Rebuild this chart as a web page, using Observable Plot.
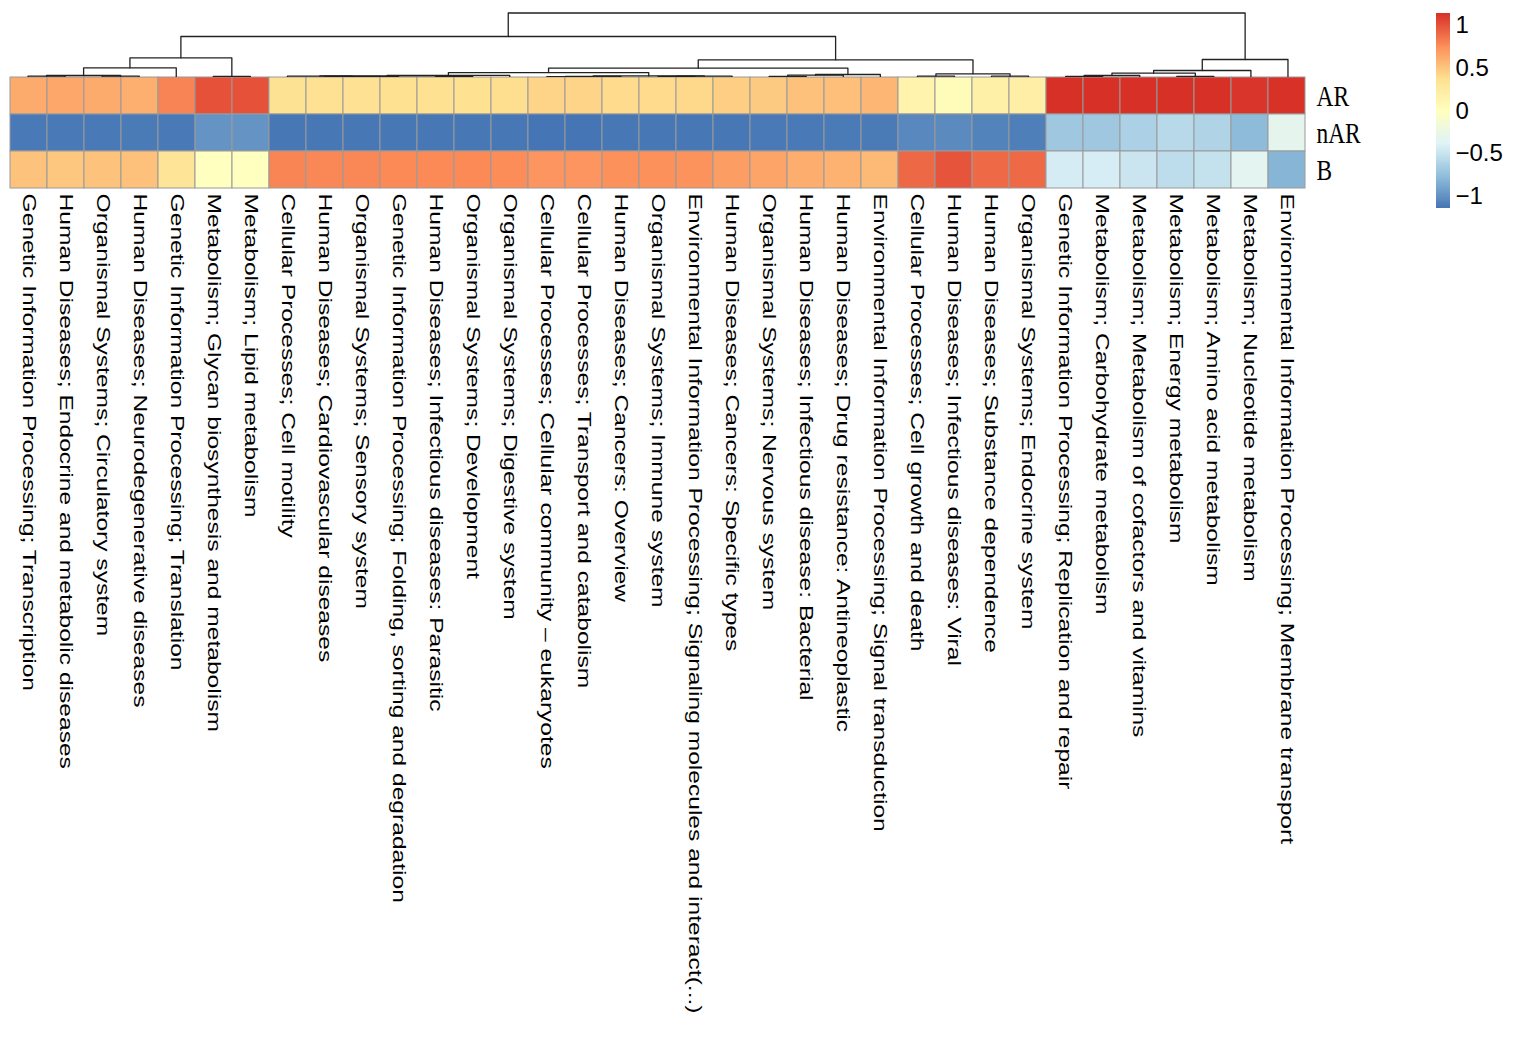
<!DOCTYPE html>
<html><head><meta charset="utf-8">
<script src="https://cdn.jsdelivr.net/npm/d3@7"></script>
<script src="https://cdn.jsdelivr.net/npm/@observablehq/plot@0.6"></script>
<style>
body{margin:0;background:#fff;}
#wrap{position:relative;width:1524px;height:1039px;background:#fff;overflow:hidden;}
#wrap svg{position:absolute;background:transparent;}
</style></head><body><div id="wrap"></div>
<script>
// ---- data ----
const pathways = [
  "Genetic Information Processing; Transcription",
  "Human Diseases; Endocrine and metabolic diseases",
  "Organismal Systems; Circulatory system",
  "Human Diseases; Neurodegenerative diseases",
  "Genetic Information Processing; Translation",
  "Metabolism; Glycan biosynthesis and metabolism",
  "Metabolism; Lipid metabolism",
  "Cellular Processes; Cell motility",
  "Human Diseases; Cardiovascular diseases",
  "Organismal Systems; Sensory system",
  "Genetic Information Processing; Folding, sorting and degradation",
  "Human Diseases; Infectious diseases: Parasitic",
  "Organismal Systems; Development",
  "Organismal Systems; Digestive system",
  "Cellular Processes; Cellular community \u2013 eukaryotes",
  "Cellular Processes; Transport and catabolism",
  "Human Diseases; Cancers: Overview",
  "Organismal Systems; Immune system",
  "Environmental Information Processing; Signaling molecules and interact(...)",
  "Human Diseases; Cancers: Specific types",
  "Organismal Systems; Nervous system",
  "Human Diseases; Infectious disease: Bacterial",
  "Human Diseases; Drug resistance: Antineoplastic",
  "Environmental Information Processing; Signal transduction",
  "Cellular Processes; Cell growth and death",
  "Human Diseases; Infectious diseases: Viral",
  "Human Diseases; Substance dependence",
  "Organismal Systems; Endocrine system",
  "Genetic Information Processing; Replication and repair",
  "Metabolism; Carbohydrate metabolism",
  "Metabolism; Metabolism of cofactors and vitamins",
  "Metabolism; Energy metabolism",
  "Metabolism; Amino acid metabolism",
  "Metabolism; Nucleotide metabolism",
  "Environmental Information Processing; Membrane transport"
];
const groups = ["AR", "nAR", "B"];
const valuesAR = [0.62, 0.64, 0.62, 0.60, 0.80, 1.00, 1.00, 0.35, 0.36, 0.36, 0.37, 0.37, 0.37, 0.38,
  0.43, 0.43, 0.40, 0.40, 0.41, 0.46, 0.48, 0.52, 0.53, 0.57,
  0.14, 0.05, 0.18, 0.20, 1.14, 1.14, 1.14, 1.14, 1.14, 1.12, 1.13];
const valuesNAR = [-1.13, -1.13, -1.13, -1.12, -1.13, -0.99, -0.99, -1.14, -1.14, -1.14, -1.14, -1.14, -1.14, -1.14,
  -1.15, -1.15, -1.14, -1.14, -1.14, -1.14, -1.13, -1.13, -1.12, -1.12,
  -1.05, -1.04, -1.08, -1.10, -0.70, -0.70, -0.64, -0.58, -0.62, -0.79, -0.32];
const valuesB = [0.51, 0.49, 0.51, 0.52, 0.33, -0.01, -0.01, 0.79, 0.78, 0.78, 0.77, 0.77, 0.77, 0.76,
  0.72, 0.72, 0.74, 0.74, 0.73, 0.68, 0.65, 0.61, 0.59, 0.55,
  0.91, 0.99, 0.90, 0.90, -0.44, -0.43, -0.49, -0.55, -0.52, -0.34, -0.82];
// dendrogram merges (hclust convention): [left, right, height]; negative = leaf (1-based), positive = earlier merge
const merges = [
  [-1, -2, 0.8], [-3, -4, 0.8], [1, 2, 1.5], [3, -5, 9.2], [-6, -7, 0.6], [4, 5, 19.2],
  [-10, -11, 0.3], [-9, 7, 0.6], [-8, 8, 0.9], [-12, -13, 0.5], [9, 10, 1.2], [11, -14, 1.6],
  [-15, -16, 0.4], [13, -17, 0.7], [-18, -19, 0.5], [15, -20, 0.8], [14, 16, 1.1], [12, 17, 4.4],
  [-21, -22, 0.6], [19, -23, 1.8], [20, -24, 2.5], [18, 21, 8.8],
  [-25, -26, 0.8], [-27, -28, 0.8], [23, 24, 3.2], [22, 25, 17.2], [6, 26, 40.5],
  [-29, -30, 0.5], [28, -31, 1.5], [-32, -33, 0.6], [29, 30, 3.8], [31, -34, 6.5], [32, -35, 17.5],
  [27, 33, 64]
];
const legendTicks = [-1, -0.5, 0, 0.5, 1];
const palette = ["#4575B4", "#91BFDB", "#E0F3F8", "#FFFFBF", "#FEE090", "#FC8D59", "#D73027"];

// ---- derived tables ----
const table = [];
groups.forEach((g, gi) => {
  const vals = [valuesAR, valuesNAR, valuesB][gi];
  pathways.forEach((p, i) => table.push({pathway: p, group: g, value: vals[i]}));
});
const [vmin, vmax] = d3.extent(table, d => d.value);
const colorDomain = palette.map((_, i) => vmin + (vmax - vmin) * i / (palette.length - 1));
const colorScale = {type: "linear", domain: colorDomain, range: palette, interpolate: "rgb"};

// dendrogram segments
const nodePos = [];
const segs = [];
const childPos = c => c < 0 ? {x: -c - 0.5, h: 0} : nodePos[c - 1];
merges.forEach(([l, r, h], i) => {
  const a = childPos(l), b = childPos(r);
  nodePos.push({x: (a.x + b.x) / 2, h});
  segs.push({id: i, x: a.x, h: a.h}, {id: i, x: a.x, h}, {id: i, x: b.x, h}, {id: i, x: b.x, h: b.h});
});

// ---- layout ----
const W = 1420, left = 9, right = 1306;
const heatTop = 76, heatH = 1039 - heatTop;
const rowTop = 0.7, rowBot = 112.3;
const cellW = (right - left) / pathways.length;
const rowH = (rowBot - rowTop) / groups.length;
const squeeze = 0.78;
const font = "'Liberation Sans', Arial, Helvetica, sans-serif";

const dendro = Plot.plot({
  width: W, height: heatTop + 1,
  marginLeft: left, marginRight: W - right, marginTop: 12.5, marginBottom: 0.5,
  style: {background: "transparent"},
  x: {domain: [0, pathways.length], axis: null},
  y: {domain: [0, 64], axis: null},
  marks: [
    Plot.line(segs, {x: "x", y: "h", z: "id", stroke: "#222", strokeWidth: 1.3, curve: "linear"})
  ]
});

const heat = Plot.plot({
  width: W, height: heatH,
  marginLeft: left, marginRight: W - right, marginTop: rowTop, marginBottom: heatH - rowBot,
  style: {background: "transparent", fontFamily: font},
  x: {domain: pathways, padding: 0, axis: null},
  y: {domain: groups, padding: 0, axis: null},
  color: colorScale,
  marks: [
    Plot.cell(table, {x: "pathway", y: "group", fill: "value", stroke: "#9a9a9a", strokeWidth: 1, inset: 0}),
    Plot.text(groups, {x: () => pathways[pathways.length - 1], y: d => d, text: d => d,
      dx: cellW / 2 + 11, textAnchor: "start", fontFamily: "'Liberation Serif', 'DejaVu Serif', serif", fontSize: 30, fill: "#000"}),
    Plot.text(pathways, {x: d => d, y: () => "B", text: d => d, rotate: 90, textAnchor: "start",
      dy: rowH / 2 + 5, fontSize: 24.6, fontFamily: font, fill: "#000"})
  ]
});
// narrow glyphs horizontally, as in the reference
d3.select(heat).selectAll("text").each(function () {
  const t = d3.select(this);
  const tr = t.attr("transform") || "";
  if (groups.includes(t.text())) t.attr("transform", tr + ` scale(${squeeze},1)`);
  else if (pathways.includes(t.text())) t.attr("transform", tr + ` scale(1,${squeeze})`);
});

const legendW = 104, legendH = 220;
const ramp = d3.range(200).map(i => {
  const y1 = vmin + (vmax - vmin) * i / 200, y2 = vmin + (vmax - vmin) * (i + 1) / 200;
  return {y1, y2, v: (y1 + y2) / 2};
});
const legend = Plot.plot({
  width: legendW, height: legendH,
  marginLeft: 16, marginRight: legendW - 30, marginTop: 13.3, marginBottom: legendH - 208.3,
  style: {background: "transparent", fontFamily: font},
  x: {domain: [0, 1], axis: null},
  y: {domain: [vmin, vmax], axis: null},
  color: colorScale,
  marks: [
    Plot.rect(ramp, {x1: 0, x2: 1, y1: "y1", y2: "y2", fill: "v", inset: 0, shapeRendering: "crispEdges"}),
    Plot.text(legendTicks, {x: 1, y: d => d, text: d => d < 0 ? "\u2212" + Math.abs(d) : String(d),
      dx: 5, textAnchor: "start", fontSize: 24, fill: "#000"})
  ]
});

const wrap = document.getElementById("wrap");
dendro.style.left = "0px"; dendro.style.top = "0px";
heat.style.left = "0px"; heat.style.top = heatTop + "px";
legend.style.left = W + "px"; legend.style.top = "0px";
wrap.append(heat, dendro, legend);
</script></body></html>
